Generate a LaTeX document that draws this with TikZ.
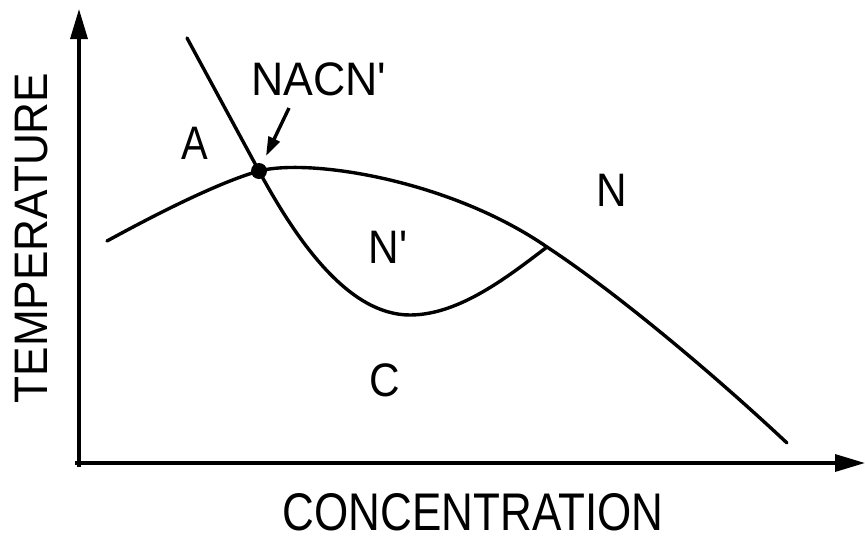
\documentclass[tikz,border=0pt]{standalone}
\usepackage{graphicx}
\usepackage{fontspec}
\setmainfont{Liberation Sans}
\usetikzlibrary{arrows.meta}
\begin{document}
\begin{tikzpicture}[x=1pt,y=-1pt,
  curve/.style={line width=3.4pt, line cap=round, line join=round},
  axis/.style={line width=3.4pt, -{Triangle[length=30pt,width=17pt]}},
  pointer/.style={line width=3.4pt, -{Triangle[length=19pt,width=12pt]}},
  lbl/.style={inner sep=0pt, font=\fontsize{47}{50}\selectfont},
  biglbl/.style={inner sep=0pt, font=\fontsize{53}{56}\selectfont},
  dotnode/.style={circle, fill=black, inner sep=0pt, minimum size=16pt},
]
\useasboundingbox (0,0) rectangle (865,541);
% axes
\coordinate (xs) at (75,463);
\coordinate (xe) at (865,463);
\coordinate (ys) at (79,467);
\coordinate (ye) at (79,9);
\draw[axis] (xs) -- (xe);
\draw[axis] (ys) -- (ye);
% key points
\coordinate (top) at (187,38);
\coordinate (Q) at (547,247);
\coordinate (L) at (107,241);
\coordinate (M) at (410,315);
\coordinate (E) at (787,443);
\node[dotnode] (P) at (259,171) {};
% steep boundary
\draw[curve] (top) -- (P.center) .. controls (299,245) and (350,315) .. (M)
  .. controls (460,315) and (510,275) .. (Q);
% upper boundary
\draw[curve] (L) .. controls (160,212) and (220,182) .. (P.center)
  .. controls (310,158) and (450,180) .. (Q)
  .. controls (620,295) and (720,380) .. (E);
% labels
\node[lbl] (nacn) at (319,79) {\scalebox{0.95}[1]{NACN\textquotesingle}};
\coordinate (pa) at (289,108);
\coordinate (pb) at (266,156);
\draw[pointer] (pa) -- (pb);
\node[lbl] (A) at (195,143) {\scalebox{0.85}[1]{A}};
\node[lbl] (N) at (612,190) {\scalebox{0.9}[1]{N}};
\node[lbl] (Np) at (388,247) {\scalebox{0.9}[1]{N\textquotesingle}};
\node[lbl] (C) at (385,380) {\scalebox{0.9}[1]{C}};
\node[lbl, rotate=90] (T) at (32,238) {\scalebox{0.94}[1]{TEMPERATURE}};
\node[biglbl] (CC) at (473,512) {\scalebox{0.83}[1]{CONCENTRATION}};
\end{tikzpicture}
\end{document}
